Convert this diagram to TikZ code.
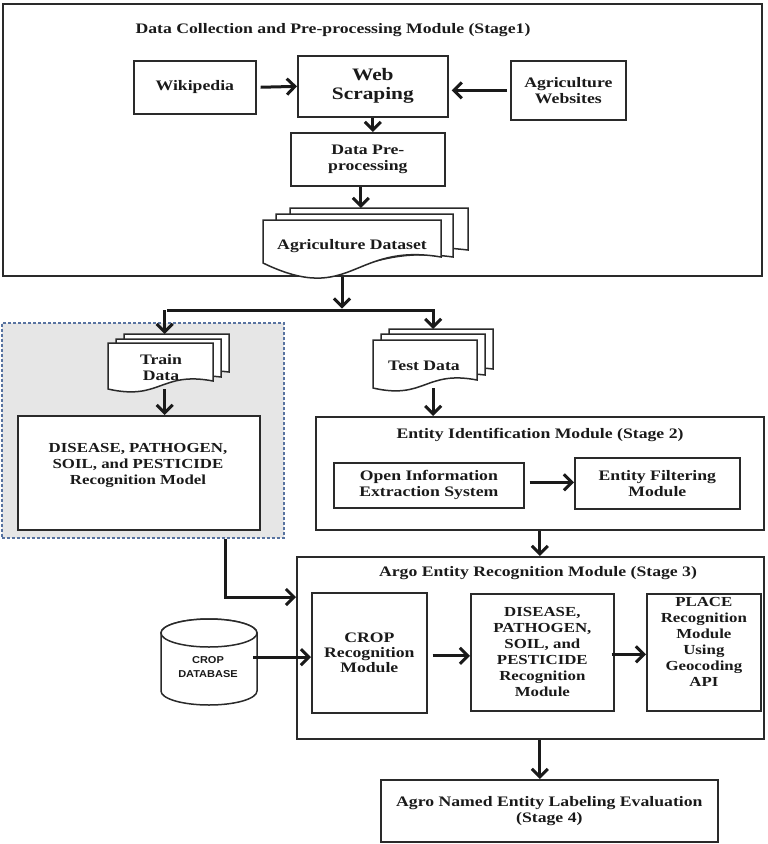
\documentclass[tikz,border=0pt]{standalone}
\usepackage{fontspec}
\setmainfont{Liberation Serif}[FakeStretch=1.22]
\setsansfont{Liberation Sans}[FakeStretch=1.1]
\usetikzlibrary{arrows.meta,calc}
\definecolor{ink}{HTML}{1A1A1A}
\definecolor{edge}{HTML}{2A2A2A}
\definecolor{panelgray}{HTML}{E6E6E6}
\definecolor{dashblue}{HTML}{5873A0}
\newcommand\fA{\fontsize{14.5}{16}\selectfont\bfseries}
\newcommand\fW{\fontsize{17.5}{19}\selectfont\bfseries}
\newcommand\fB{\fontsize{13.8}{16}\selectfont\bfseries}
\newcommand\fS{\fontsize{10}{14}\selectfont\sffamily\bfseries}
% wavy document: L T R Bl Br a b
\newcommand\wavedoc[7]{%
  \filldraw[docline] (#1,#2) -- (#3,#2) -- (#3,#5)
    .. controls ({(#1+#3)/2},{#5-#6}) and ({(#1+#3)/2},{#4+#7}) .. (#1,#4) -- cycle;}
\tikzset{
  docline/.style={draw=edge, line width=1.5pt, fill=white},
  box/.style={draw=edge, line width=1.7pt, fill=white, align=center, inner sep=2pt,
    text=ink, font=\fA, anchor=north west},
  frame/.style={draw=edge, line width=1.8pt, anchor=north west, inner sep=0pt},
  ghost/.style={inner sep=0pt, anchor=north west},
  ttl/.style={text=ink, font=\fA, align=center, inner sep=0pt},
  txt/.style={text=ink, font=\fA, align=center, inner sep=0pt},
  arr/.style={line width=3pt, draw=ink, -{Straight Barb[length=8pt,width=16pt]}},
  conn/.style={line width=3pt, draw=ink},
}
\begin{document}
\begin{tikzpicture}[x=1pt,y=-1pt]
\useasboundingbox (0,0) rectangle (768,844);
\fill[white] (0,0) rectangle (768,844);

% ---------- Stage 1 ----------
\node[frame, minimum width=759pt, minimum height=272pt] (stage1) at (2,3) {};
\node[ttl] (t1) at (333,30) {Data Collection and Pre-processing Module (Stage1)};
\node[box, minimum width=122pt, minimum height=53pt] (wiki) at (133,60) {Wikipedia};
\node[box, minimum width=150pt, minimum height=61pt, font=\fW] (web) at (297,55) {Web\\Scraping};
\node[box, minimum width=115pt, minimum height=59pt] (agri) at (510,60) {Agriculture\\Websites};
\node[box, minimum width=154pt, minimum height=53pt] (prep) at (290,132) {Data Pre-\\processing};

\wavedoc{290}{208}{468}{250}{250}{10}{10}
\wavedoc{276}{214}{453}{257}{257}{12}{30}
\wavedoc{263}{220}{441}{263}{257}{15}{43}
\node[ghost, minimum width=205pt, minimum height=55pt] (dset) at (263,208) {};
\node[txt] (dsettxt) at (352,246) {Agriculture Dataset};

\draw[arr, shorten <=4pt] (wiki.east) -- (web.west);
\draw[arr, shorten <=3pt, shorten >=3pt] (agri.west) -- (web.east |- agri.west);
\draw[arr] (web.south) -- (web.south |- prep.north);
\draw[arr] ([xshift=-7pt]prep.south) -- ([xshift=-7pt]prep.south |- dset.north);

% ---------- split ----------
\coordinate (split) at (342,310);
\node[ghost, minimum width=121pt, minimum height=55pt] (train) at (108,334) {};
\node[ghost, minimum width=120pt, minimum height=59pt] (test) at (373,329) {};

\draw[arr, shorten >=1.5pt] (stage1.south -| split) -- (split);
\draw[conn, line cap=butt] ([xshift=-1.5pt]train.north |- split) -- ([xshift=1.5pt]test.north |- split);

% ---------- training panel ----------
\node[ghost, minimum width=282pt, minimum height=215pt, fill=panelgray, draw=dashblue,
  line width=1.5pt, dash pattern=on 3pt off 2pt] (panel) at (1,322) {};

\wavedoc{124}{334}{229}{372}{372}{6}{6}
\wavedoc{116}{339}{221}{377}{377}{6}{8}
\wavedoc{108}{343}{213}{389}{381}{10}{12}
\node[txt] (traintxt) at (161,368) {Train\\Data};

\node[box, minimum width=242pt, minimum height=114pt] (model) at (17,415) {};
\node[txt, font=\fB] (modeltxt) at (138,465) {DISEASE, PATHOGEN,\\SOIL, and PESTICIDE\\Recognition Model};

\draw[arr] ([xshift=-4pt]train.north |- split) -- ([xshift=-4pt]train.north);
\draw[arr] ([xshift=-4pt]train.south) -- ([xshift=-4pt]train.south |- model.north);

% ---------- test data / stage 2 ----------
\wavedoc{389}{329}{493}{369}{369}{6}{6}
\wavedoc{381}{334}{485}{375}{375}{6}{8}
\wavedoc{373}{340}{477}{388}{380}{10}{12}
\node[txt] (testtxt) at (424,366) {Test Data};

\node[box, minimum width=448pt, minimum height=113pt] (stage2) at (315,416) {};
\node[ttl] (t2) at (540,435) {Entity Identification Module (Stage 2)};
\node[box, minimum width=190pt, minimum height=45pt] (open) at (333,462) {Open Information\\Extraction System};
\node[box, minimum width=165pt, minimum height=51pt] (filter) at (574,457) {Entity Filtering\\Module};

\draw[arr] (test.north |- split) -- (test.north);
\draw[arr] (test.south) -- (test.south |- stage2.north);
\draw[arr, shorten <=5pt] ([yshift=3pt]open.east) -- ([yshift=3pt]open.east -| filter.west);

% ---------- stage 3 ----------
\node[box, minimum width=467pt, minimum height=182pt] (stage3) at (296,556) {};
\node[ttl] (t3) at (538,573) {Argo Entity Recognition Module (Stage 3)};
\node[box, minimum width=115pt, minimum height=120pt] (crop) at (311,592) {CROP\\[-1pt]Recognition\\[-1pt]Module};
\node[box, minimum width=143pt, minimum height=117pt] (dis) at (470,593)
  {\fB DISEASE,\\\fB PATHOGEN,\\\fB SOIL, and\\\fB PESTICIDE\\\fB Recognition\\\fB Module};
\node[box, minimum width=114pt, minimum height=117pt] (place) at (646,593)
  {\fB PLACE\\\fB Recognition\\\fB Module\\\fB Using\\\fB Geocoding\\\fB API\\[5pt]};

\draw[arr] (stage2.south) -- (stage2.south |- stage3.north);
\draw[arr, shorten <=5pt] ([yshift=-3pt]crop.east) -- ([yshift=-3pt]crop.east -| dis.west);
\draw[arr, shorten <=-3pt] ([yshift=-2pt]dis.east) -- ([yshift=-2pt]dis.east -| place.west);

% ---------- crop database ----------
\node[ghost, minimum width=96pt, minimum height=86pt] (cyl) at (161,619) {};
\filldraw[docline] (161,633) -- (161,691) arc[start angle=180, end angle=360, x radius=48pt, y radius=14pt]
  -- (257,633) arc[start angle=0, end angle=180, x radius=48pt, y radius=14pt] -- cycle;
\draw[docline] (209,633) ellipse [x radius=48pt, y radius=14pt];
\node[txt, font=\fS] (cyltxt) at (208,667) {CROP\\DATABASE};

\draw[arr, shorten <=-4pt] ([yshift=5pt]cyl.east) -- ([yshift=5pt]cyl.east -| crop.west);

% training panel to stage 3
\coordinate (bend) at (225,597);
\draw[arr, line join=miter] (panel.south -| bend) -- (bend) -- (bend -| stage3.west);

% ---------- stage 4 ----------
\node[box, minimum width=337pt, minimum height=62pt] (stage4) at (380,779)
  {Agro Named Entity Labeling Evaluation\\(Stage 4)};
\draw[arr] (stage2.south |- stage3.south) -- (stage2.south |- stage4.north);
\end{tikzpicture}
\end{document}
